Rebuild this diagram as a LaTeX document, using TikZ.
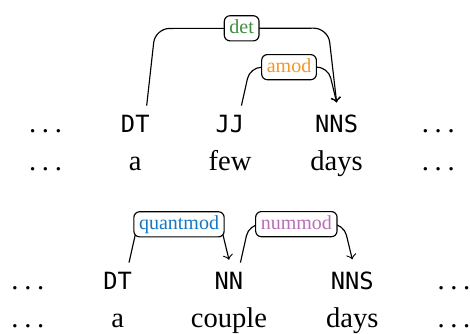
\documentclass[tikz,border=0pt]{standalone}
\usepackage{fontspec}
\setmainfont{Liberation Serif}
\newfontfamily\tagfont{DejaVu Sans Mono}[Scale=0.83]
\usepackage{tikz}
\usetikzlibrary{matrix, positioning}
\usepackage{xcolor}
\definecolor{detcol}{RGB}{62,142,65}
\definecolor{amodcol}{RGB}{245,150,40}
\definecolor{quantcol}{RGB}{20,120,200}
\definecolor{numcol}{RGB}{185,110,185}
\newcommand{\gap}{\rmfamily.\kern2pt.\kern2pt.}

\tikzset{
  arc/.style={->, rounded corners=4pt},
  lbl/.style={draw, fill=white, rounded corners=2pt, font=\scriptsize,
              inner xsep=1.8pt, inner ysep=1.2pt,
              text height=4.9pt, text depth=1.5pt},
}

\begin{document}
\begin{tikzpicture}
\useasboundingbox (0,0) rectangle (164.5pt,116.9pt);
\matrix (top) [matrix of nodes, column sep=14pt,
         row sep={13pt,between origins},
         row 1/.style={nodes={font=\tagfont}},
         matrix anchor=jj1.base] at (80.5pt,70.35pt)
%
{
|(l1)| \gap & |(dt1)| DT & |(jj1)| JJ  & |(nns1)| NNS  & |(r1)| \gap \\
\gap & |(a1)| a & |(few1)| few & |(days1)| days & \gap \\
};

\matrix (bot) [matrix of nodes, column sep=14pt,
         row sep={13pt,between origins},
         row 1/.style={nodes={font=\tagfont}},
         matrix anchor=nn2.base] at (80.15pt,15.4pt)
%
{
|(l2)| \gap & |(dt2)| DT & |(nn2)| NN  & |(nns2)| NNS  & |(r2)| \gap \\
\gap & |(a2)| a & |(couple2)| couple & |(days2)| days & \gap \\
};

\draw[arc, rounded corners=5pt] ([xshift=4pt]dt1.north) -- ++(3pt,27pt)
  -- node[lbl, text=detcol] {det} ([xshift=-3pt,yshift=27pt]nns1.north)
  -- ([yshift=1pt]nns1.north);
\draw[arc] ([xshift=4pt]jj1.north) -- ++(3pt,13.4pt)
  -- node[lbl, text=amodcol] {amod} ([xshift=-3pt,yshift=13.4pt]nns1.north)
  -- ([yshift=1pt]nns1.north);
%
\draw[arc] ([xshift=4pt]dt2.north) -- ++(3pt,13.4pt)
  -- node[lbl, text=quantcol] {quantmod} ([xshift=-3pt,yshift=13.4pt]nn2.north)
  -- ([yshift=1pt]nn2.north);
\draw[arc] ([xshift=4pt]nn2.north) -- ++(3pt,13.4pt)
  -- node[lbl, text=numcol] {nummod} ([xshift=-3pt,yshift=13.4pt]nns2.north)
  -- ([yshift=1pt]nns2.north);
\end{tikzpicture}
\end{document}
